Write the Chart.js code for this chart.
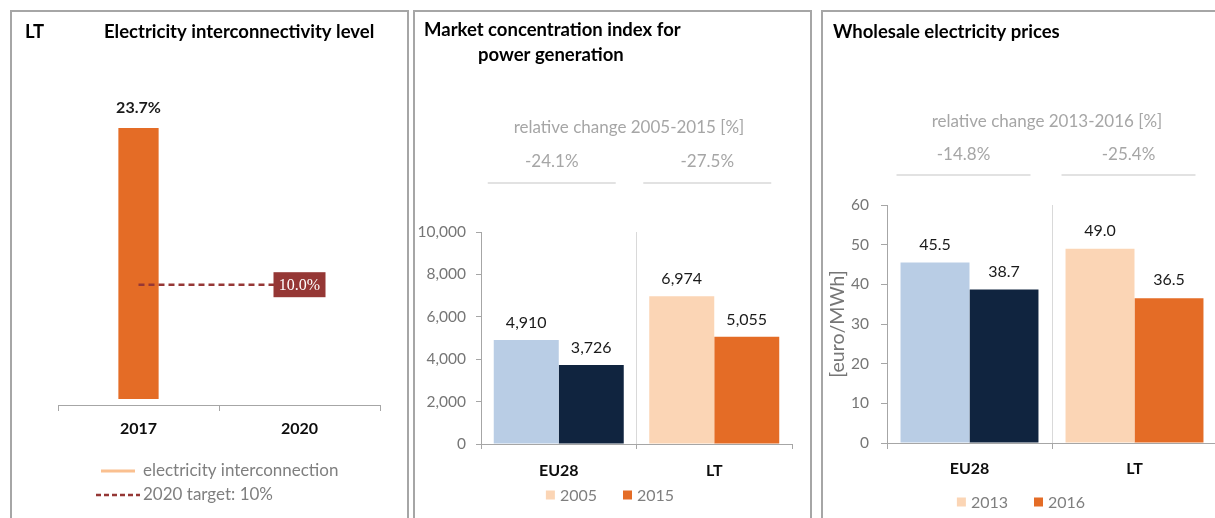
<!DOCTYPE html>
<html>
<head>
<meta charset="utf-8">
<script src="https://cdn.jsdelivr.net/npm/chart.js@4.4.0/dist/chart.umd.min.js"></script>
<style>
    html, body { margin: 0; padding: 0; background: #fff; overflow: hidden; width: 1215px; height: 518px; }
    .frame { position: absolute; border: 2px solid #a6a6a6; box-sizing: border-box; }
    .box { position: absolute; }
</style>
</head>
<body>
<div class="frame" style="left:10px;top:10px;width:399px;height:530px"></div>
<div class="frame" style="left:413px;top:10px;width:399px;height:530px"></div>
<div class="frame" style="left:821px;top:10px;width:420px;height:530px"></div>

<div class="box" style="left:12px;top:12px"><canvas id="interconnection-chart" width="394" height="506"></canvas></div>
<div class="box" style="left:413px;top:10px"><canvas id="hhi-chart" width="398" height="508"></canvas></div>
<div class="box" style="left:822px;top:10px"><canvas id="price-chart" width="398" height="508"></canvas></div>

<script>
// ---- data ----
const interYears = ['2017', '2020'];
const interLevel = [23.7, null];
const interTarget = [10, 10];

const hhiRegions = ['EU28', 'LT'];
const hhiYears = ['2005', '2015'];
const hhi2005 = [4910, 6974];
const hhi2015 = [3726, 5055];
const hhiChange = ['-24.1%', '-27.5%'];
const hhiTicks = [0, 2000, 4000, 6000, 8000, 10000];

const priceRegions = ['EU28', 'LT'];
const priceYears = ['2013', '2016'];
const price2013 = [45.5, 49.0];
const price2016 = [38.7, 36.5];
const priceChange = ['-14.8%', '-25.4%'];
const priceTicks = [0, 10, 20, 30, 40, 50, 60];

// ---- styles ----
const font = 'Lato, "Open Sans", sans-serif';
const lightBlue = '#B9CDE5';
const navy = '#10243F';
const peach = '#FBD5B5';
const orange = '#E46C26';
const darkRed = '#953735';
const axisGrey = '#a6a6a6';

Chart.defaults.font.family = font;
Chart.defaults.animation = false;

// titles, relative change notes, value labels and legends drawn on the canvas
const decorPlugin = {
    id: 'decor',
    afterDraw(chart, args, opts) {
        const ctx = chart.ctx;
        ctx.save();
        ctx.textBaseline = 'middle';

        (opts.titles || []).forEach(t => {
            ctx.font = 'bold 18.5px ' + font;
            ctx.fillStyle = '#000';
            ctx.textAlign = 'left';
            ctx.fillText(t.text, t.x, t.y);
        });

        if (opts.change) {
            const c = opts.change;
            const xs = chart.scales.x;
            ctx.font = '17px ' + font;
            ctx.fillStyle = '#a6a6a6';
            ctx.textAlign = 'center';
            ctx.fillText(c.title, c.titleX, c.titleY);
            c.values.forEach((v, i) => {
                const cx = xs.getPixelForValue(i) + c.shift;
                ctx.fillStyle = '#a6a6a6';
                ctx.fillText(v, cx, c.valueY);
                ctx.strokeStyle = '#d9d9d9';
                ctx.lineWidth = 1.5;
                ctx.beginPath();
                ctx.moveTo(cx - c.half, c.lineY);
                ctx.lineTo(cx + c.half, c.lineY);
                ctx.stroke();
            });
        }

        if (opts.values) {
            const v = opts.values;
            v.datasets.forEach(di => {
                const meta = chart.getDatasetMeta(di);
                const data = chart.data.datasets[di].data;
                meta.data.forEach((el, i) => {
                    if (data[i] == null) return;
                    ctx.font = v.font;
                    ctx.fillStyle = '#1a1a1a';
                    ctx.textAlign = 'center';
                    ctx.fillText(v.format(data[i]), el.x, el.y - v.gap);
                });
            });
        }

        if (opts.targetBox) {
            const b = opts.targetBox;
            const meta = chart.getDatasetMeta(b.datasetIndex);
            const el = meta.data[meta.data.length - 1];
            const val = chart.data.datasets[b.datasetIndex].data[meta.data.length - 1];
            ctx.fillStyle = darkRed;
            ctx.fillRect(el.x - b.w / 2, el.y - b.h / 2, b.w, b.h);
            ctx.font = '16px "Liberation Serif", serif';
            ctx.fillStyle = '#fff';
            ctx.textAlign = 'center';
            ctx.fillText(val.toFixed(1) + '%', el.x, el.y + 1);
        }

        if (opts.lineLegend) {
            opts.lineLegend.forEach(item => {
                ctx.strokeStyle = item.color;
                ctx.lineWidth = item.width;
                ctx.setLineDash(item.dash || []);
                ctx.beginPath();
                ctx.moveTo(item.x0, item.y);
                ctx.lineTo(item.x1, item.y);
                ctx.stroke();
                ctx.setLineDash([]);
                ctx.font = '17px ' + font;
                ctx.fillStyle = '#7f7f7f';
                ctx.textAlign = 'left';
                ctx.fillText(item.text, item.textX, item.y);
            });
        }

        if (opts.boxLegend) {
            const l = opts.boxLegend;
            const items = chart.data.datasets.map(ds => ({ text: ds.label, color: ds.legendColor }));
            ctx.font = '16px ' + font;
            const widths = items.map(it => l.box + l.gap + ctx.measureText(it.text).width);
            const total = widths.reduce((a, b) => a + b, 0) + l.spacing * (items.length - 1);
            let x = l.centerX - total / 2;
            items.forEach((it, i) => {
                ctx.fillStyle = it.color;
                ctx.fillRect(x, l.y - l.box / 2, l.box, l.box);
                ctx.fillStyle = '#7f7f7f';
                ctx.textAlign = 'left';
                ctx.fillText(it.text, x + l.box + l.gap, l.y + 1);
                x += widths[i] + l.spacing;
            });
        }
        ctx.restore();
    }
};

function fixSize(prop, size) {
    return scale => { scale[prop] = size; };
}

// ELECTRICITY INTERCONNECTIVITY
new Chart(document.getElementById('interconnection-chart'), {
    type: 'bar',
    data: {
        labels: interYears,
        datasets: [{
            type: 'line',
            label: '2020 target: 10%',
            data: interTarget,
            borderColor: darkRed,
            borderWidth: 2.5,
            borderDash: [6, 4],
            pointRadius: 0,
            order: 0
        }, {
            label: 'electricity interconnection',
            data: interLevel,
            backgroundColor: orange,
            barPercentage: 0.25,
            categoryPercentage: 1,
            order: 1
        }]
    },
    options: {
        responsive: false,
        layout: { padding: { left: 46, right: 26, top: 44, bottom: 0 } },
        plugins: {
            legend: { display: false },
            tooltip: { enabled: false },
            decor: {
                titles: [
                    { text: 'LT', x: 13, y: 20 },
                    { text: 'Electricity interconnectivity level', x: 92, y: 20 }
                ],
                values: { datasets: [1], font: 'bold 16px ' + font, gap: 20, format: v => v.toFixed(1) + '%' },
                targetBox: { datasetIndex: 0, w: 52, h: 25 },
                lineLegend: [
                    { text: 'electricity interconnection', color: '#FAC090', width: 3, x0: 89, x1: 123, y: 459, textX: 131 },
                    { text: '2020 target: 10%', color: darkRed, width: 2.5, dash: [5, 3], x0: 84, x1: 128, y: 483, textX: 131 }
                ]
            }
        },
        scales: {
            x: {
                afterFit: fixSize('height', 113),
                grid: { drawOnChartArea: false, color: axisGrey, tickLength: 6 },
                border: { color: axisGrey },
                ticks: { color: '#0d0d0d', font: { size: 16, weight: 'bold' }, padding: 8 }
            },
            y: {
                display: false,
                min: -0.52,
                max: 30
            }
        }
    },
    plugins: [decorPlugin]
});

// MARKET CONCENTRATION INDEX
new Chart(document.getElementById('hhi-chart'), {
    type: 'bar',
    data: {
        labels: hhiRegions,
        datasets: [{
            label: hhiYears[0],
            data: hhi2005,
            backgroundColor: [lightBlue, peach],
            legendColor: peach
        }, {
            label: hhiYears[1],
            data: hhi2015,
            backgroundColor: [navy, orange],
            legendColor: orange
        }]
    },
    options: {
        responsive: false,
        datasets: { bar: { barPercentage: 1, categoryPercentage: 0.836 } },
        layout: { padding: { left: 0, right: 19, top: 222, bottom: 0 } },
        plugins: {
            legend: { display: false },
            tooltip: { enabled: false },
            decor: {
                titles: [
                    { text: 'Market concentration index for', x: 11, y: 20 },
                    { text: 'power generation', x: 65, y: 45 }
                ],
                change: {
                    title: 'relative change 2005-2015 [%]', titleX: 216, titleY: 118,
                    values: hhiChange, valueY: 152, lineY: 173, shift: -7, half: 64
                },
                values: { datasets: [0, 1], font: '16px ' + font, gap: 17, format: v => v.toLocaleString('en-US') },
                boxLegend: { centerX: 197, y: 485, box: 9, gap: 5, spacing: 26 }
            }
        },
        scales: {
            x: {
                afterFit: fixSize('height', 74),
                grid: {
                    color: c => c.index === 1 ? '#d9d9d9' : 'rgba(0,0,0,0)',
                    tickColor: axisGrey,
                    tickLength: 5
                },
                border: { color: axisGrey },
                ticks: { color: '#0d0d0d', font: { size: 16, weight: 'bold' }, padding: 12 }
            },
            y: {
                min: 0,
                max: 10000,
                afterFit: fixSize('width', 68),
                afterBuildTicks: s => { s.ticks = hhiTicks.map(v => ({ value: v })); },
                grid: { drawOnChartArea: false, color: axisGrey, tickLength: 5 },
                border: { color: axisGrey },
                ticks: { color: '#767676', font: { size: 15.5 }, padding: 10, callback: v => v.toLocaleString('en-US') }
            }
        }
    },
    plugins: [decorPlugin]
});

// WHOLESALE ELECTRICITY PRICES
new Chart(document.getElementById('price-chart'), {
    type: 'bar',
    data: {
        labels: priceRegions,
        datasets: [{
            label: priceYears[0],
            data: price2013,
            backgroundColor: [lightBlue, peach],
            legendColor: peach
        }, {
            label: priceYears[1],
            data: price2016,
            backgroundColor: [navy, orange],
            legendColor: orange
        }]
    },
    options: {
        responsive: false,
        datasets: { bar: { barPercentage: 1, categoryPercentage: 0.836 } },
        layout: { padding: { left: 0, right: 3, top: 195, bottom: 0 } },
        plugins: {
            legend: { display: false },
            tooltip: { enabled: false },
            decor: {
                titles: [
                    { text: 'Wholesale electricity prices', x: 11, y: 22 }
                ],
                change: {
                    title: 'relative change 2013-2016 [%]', titleX: 225, titleY: 112,
                    values: priceChange, valueY: 145, lineY: 165, shift: -6, half: 67
                },
                values: { datasets: [0, 1], font: '16px ' + font, gap: 18, format: v => v.toFixed(1) },
                boxLegend: { centerX: 199, y: 492, box: 9, gap: 5, spacing: 26 }
            }
        },
        scales: {
            x: {
                afterFit: fixSize('height', 75),
                grid: {
                    color: c => c.index === 1 ? '#d9d9d9' : 'rgba(0,0,0,0)',
                    tickColor: axisGrey,
                    tickLength: 6
                },
                border: { color: axisGrey },
                ticks: { color: '#0d0d0d', font: { size: 16, weight: 'bold' }, padding: 10 }
            },
            y: {
                min: 0,
                max: 60,
                afterFit: fixSize('width', 65),
                afterBuildTicks: s => { s.ticks = priceTicks.map(v => ({ value: v })); },
                title: { display: true, text: '[euro/MWh]', color: '#767676', font: { size: 19.5 }, padding: { top: 4 } },
                grid: { drawOnChartArea: false, color: axisGrey, tickLength: 6 },
                border: { color: axisGrey },
                ticks: { color: '#767676', font: { size: 15.5 }, padding: 12 }
            }
        }
    },
    plugins: [decorPlugin]
});
</script>
</body>
</html>
